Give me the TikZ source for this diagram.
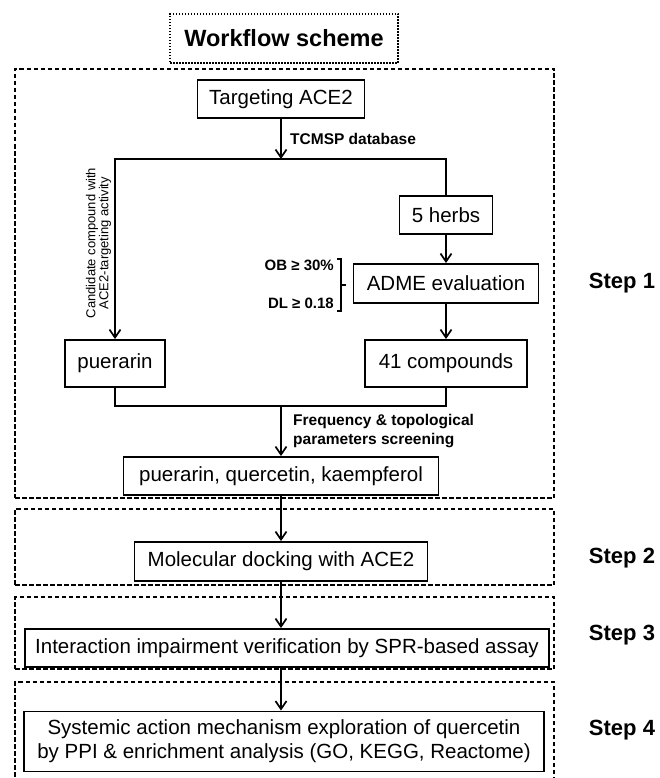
\documentclass[tikz,border=0pt]{standalone}
\usepackage{fontspec}
\setmainfont{Liberation Sans}
\usetikzlibrary{arrows.meta, positioning}
\tikzstyle{arrow} = [line width=1.7pt,->,>={Straight Barb[length=8pt,width=11pt]}]
\tikzstyle{link} = [line width=1.7pt]
\tikzstyle{process} = [rectangle, draw=black, line width=1.9pt, inner sep=0pt, align=center, font=\fontsize{20.5}{24}\selectfont]
\tikzstyle{stepframe} = [rectangle, draw=black, line width=1.8pt, dash pattern=on 4.5pt off 2.5pt, minimum width=539pt, inner sep=0pt]
\tikzstyle{steplabel} = [font=\bfseries\fontsize{22}{26}\selectfont]
\tikzstyle{note} = [font=\bfseries\fontsize{15.5}{19}\selectfont, align=left]
\tikzstyle{cond} = [font=\bfseries\fontsize{15}{18}\selectfont, inner sep=0pt]

\begin{document}
\begin{tikzpicture}[x=1pt, y=1pt]
\useasboundingbox (0,0) rectangle (659,-778);
% Frames of the four steps
\node (title) [rectangle, draw=black, line width=1.7pt, dash pattern=on 1.5pt off 1.5pt, minimum width=228pt, minimum height=49pt, font=\bfseries\fontsize{23.5}{28}\selectfont] at (284,-38.5) {Workflow scheme};
\node (frame1) [stepframe, minimum height=429pt] at (284.5,-283.5) {};
\node (frame2) [stepframe, minimum height=76pt] at (284.5,-547) {};
\node (frame3) [stepframe, minimum height=72pt] at (284.5,-633) {};
\node (frame4) [stepframe, minimum height=99pt] at (284.5,-731.5) {};
\node (lab1) [steplabel] at (622,-283) {Step 1};
\node (lab2) [steplabel] at (622,-558) {Step 2};
\node (lab3) [steplabel] at (622,-635) {Step 3};
\node (lab4) [steplabel] at (622,-730) {Step 4};

% Placement of nodes
\node (targ) [process, minimum width=167pt, minimum height=38pt] at (281,-99) {Targeting ACE2};
\coordinate (split) at (281,-159);
\node (herbs) [process, minimum width=93pt, minimum height=38pt] at (446,-215) {5 herbs};
\node (adme) [process, minimum width=185pt, minimum height=39pt, node distance=68.5pt, below of=herbs] {ADME evaluation};
\node (comp41) [process, minimum width=162pt, minimum height=47pt, node distance=80pt, below of=adme] {41 compounds};
\node (puer) [process, minimum width=100pt, minimum height=47pt, node distance=331pt, left of=comp41] {puerarin};
\coordinate (merge) at (281,-406);
\node (final) [process, minimum width=315pt, minimum height=38pt, node distance=377pt, below of=targ] {puerarin, quercetin, kaempferol};
\node (dock) [process, minimum width=293pt, minimum height=39pt, node distance=85.5pt, below of=final] {Molecular docking with ACE2};
\node (spr) [process, minimum width=524pt, minimum height=38pt, node distance=86.5pt, below of=dock, xshift=6pt] {Interaction impairment verification by SPR-based assay};
\node (sys) [process, minimum width=520pt, minimum height=60pt, node distance=93.5pt, below of=spr, xshift=-3pt] {Systemic action mechanism exploration of quercetin\\by PPI \& enrichment analysis (GO, KEGG, Reactome)};

\node (ob) [cond, anchor=base east] at (334,-270) {OB ≥ 30\%};
\node (dl) [cond, anchor=base east] at (334,-308) {DL ≥ 0.18};
\node (cand) [rotate=90, align=center, font=\fontsize{13}{12}\selectfont] at (98.5,-243) {Candidate compound with\\ACE2-targeting activity};

% bracket for the ADME filters
\draw [link, line width=1.4pt] ([xshift=-15.5pt,yshift=4pt]adme.north west) -- ([xshift=-11.5pt,yshift=4pt]adme.north west) -- ([xshift=-11.5pt,yshift=-7pt]adme.south west) -- ([xshift=-15.5pt,yshift=-7pt]adme.south west);
\draw [link, line width=1.4pt] ([xshift=-11.5pt,yshift=-1.5pt]adme.west) -- ([xshift=-6.5pt,yshift=-1.5pt]adme.west);

% Placement of edges
\draw [arrow] (targ) -- node[note, anchor=west, xshift=5pt] {TCMSP database} (split);
\draw [arrow] (split) -| (puer);
\draw [link] (split) -| (herbs);
\draw [arrow] (herbs) -- (adme);
\draw [arrow] (adme) -- (comp41);
\draw [link] (puer) |- (merge) -| (comp41);
\draw [arrow] (merge) -- node[note, anchor=west, xshift=8pt] {Frequency \& topological\\parameters screening} (final);
\draw [arrow] (final) -- (dock);
\draw [arrow] (dock) -- (dock.south |- spr.north);
\draw [arrow] (spr.south -| dock) -- (sys.north -| dock);
\end{tikzpicture}
\end{document}
